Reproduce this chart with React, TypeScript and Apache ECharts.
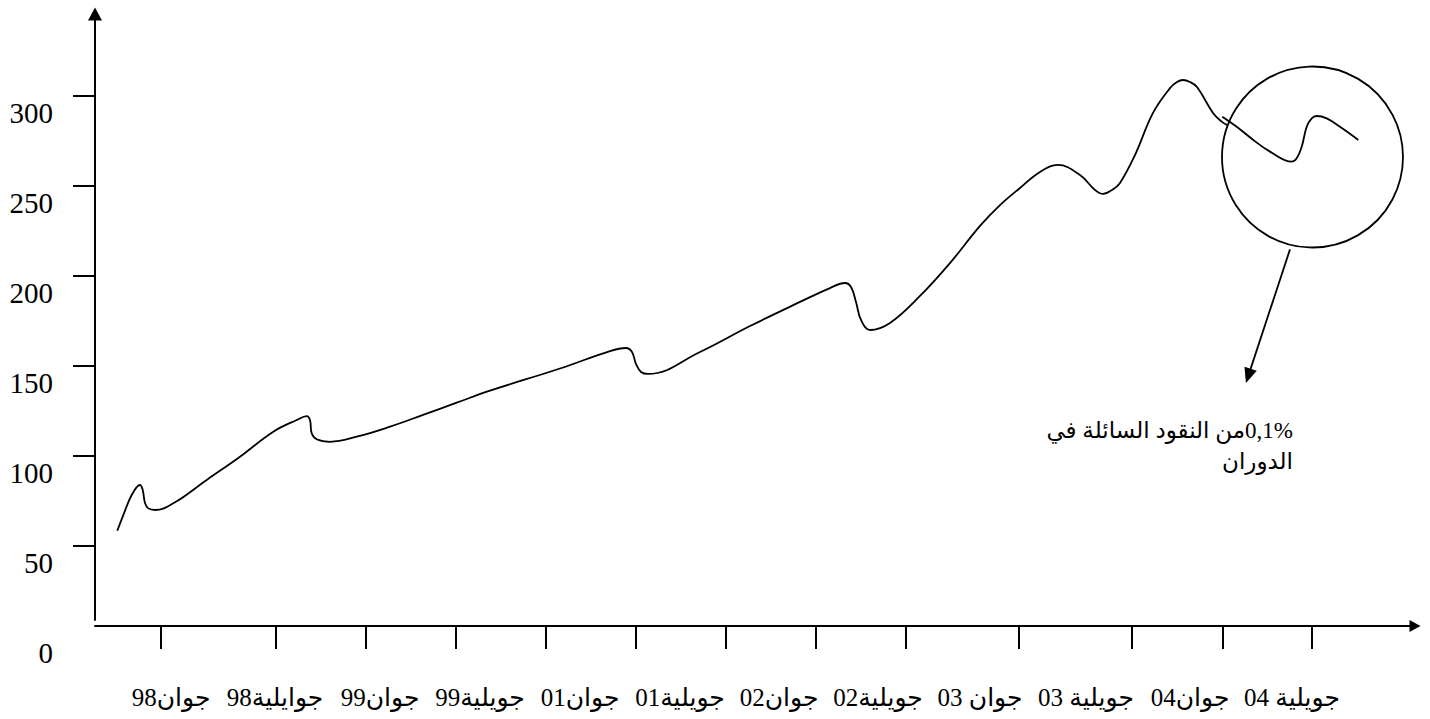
import React, { useEffect, useRef } from "react";
import * as echarts from "echarts";

// ---- data ----
const yTickValues = [50, 100, 150, 200, 250, 300];
const yLabelValues = [0, 50, 100, 150, 200, 250, 300];

const xTickValues = [6.6, 18.1, 27.1, 36.1, 45.1, 54.1, 63.1, 72.1, 81.1, 92.4, 103.7, 112.8, 121.7];
const xLabels = [
  "جوان98",
  "جوايلية98",
  "جوان99",
  "جويلية99",
  "جوان01",
  "جويلية01",
  "جوان02",
  "جويلية02",
  "جوان 03",
  "جويلية 03",
  "جوان04",
  "جويلية 04",
];
const xLabelAt = [7.6, 18.0, 28.5, 38.5, 48.5, 58.5, 68.4, 78.3, 88.5, 99.1, 109.5, 119.7];

const mainX = [2.23, 2.83, 3.67, 4.5, 4.77, 5.0, 5.33, 6.0, 7.83, 11.17, 14.5, 17.83, 20.17, 21.17, 21.5, 21.67, 22.17, 23.5, 26.17, 29.5, 32.8, 36.17, 39.5, 46.5, 51.5, 53.1, 53.7, 54.1, 54.6, 55.3, 60.5, 65.5, 70.5, 73.5, 75.0, 75.6, 76.1, 76.6, 77.5, 79.5, 82.5, 85.5, 88.5, 90.5, 92.5, 94.5, 96.3, 98.5, 100.0, 100.8, 101.7, 102.5, 104.0, 105.8, 107.5, 108.2, 108.8, 109.5, 110.2, 111.8, 112.7, 113.2];
const mainY = [58.5, 67.2, 78.3, 83.9, 81.1, 73.9, 70.9, 70.0, 73.7, 86.7, 99.6, 113.5, 120, 122.2, 120, 112.6, 109.3, 107.9, 110.7, 116.3, 122.8, 129.6, 136.3, 148.6, 158.3, 160, 157.8, 151.1, 146.7, 145.6, 157.8, 172.2, 185.6, 193.3, 196.1, 193.9, 185.6, 175.6, 170, 173.9, 188.9, 207.2, 227.8, 239.4, 248.9, 257.8, 261.7, 256.1, 247.8, 245.6, 247.8, 251.7, 267.2, 290.6, 304.4, 307.8, 308.9, 307.8, 305, 290.6, 285.6, 283.9];

const circX = [112.73, 114.17, 115.83, 117.5, 119.67, 120.17, 120.67, 121.17, 121.67, 122.17, 123.17, 124.5, 126.33];
const circY = [288.5, 282.9, 275.6, 269.1, 263.5, 265.4, 271.8, 282.9, 287.6, 288.9, 287.6, 282.9, 275.6];

const circleCenter = [121.75, 266.1];
const arrowFrom = [119.5, 214.8];
const arrowTo = [115.33, 144.5];

const noteLines = ["0,1%من النقود السائلة في", "الدوران"];

const SERIF = "'Liberation Serif', 'DejaVu Serif', 'DejaVu Sans', serif";
const RLE = "\u202B";
const PDF = "\u202C";

export default function App() {
  const ref = useRef<HTMLDivElement>(null);

  useEffect(() => {
    if (!ref.current) return;
    const chart = echarts.init(ref.current, undefined, { renderer: "svg" });

    const mainData = mainX.map((x, i) => [x, mainY[i]]);
    const circData = circX.map((x, i) => [x, circY[i]]);

    const option: any = {
      animation: false,
      backgroundColor: "#ffffff",
      grid: [
        { left: 95, right: 15, top: 15, bottom: 83, outerBoundsMode: "none", containLabel: false },
        { left: 95, width: 1, top: 14, bottom: 99, outerBoundsMode: "none", containLabel: false },
      ],
      xAxis: [
        {
          type: "value",
          gridIndex: 0,
          min: 0,
          max: 132,
          offset: -10,
          axisLine: {
            show: true,
            onZero: false,
            symbol: ["none", "triangle"],
            symbolSize: [12, 11],
            lineStyle: { color: "#000", width: 2 },
          },
          axisTick: {
            show: true,
            customValues: xTickValues,
            length: 23,
            lineStyle: { color: "#000", width: 2 },
          },
          axisLabel: {
            show: true,
            customValues: xLabelAt,
            hideOverlap: false,
            margin: 59,
            color: "#000",
            fontSize: 25,
            fontFamily: SERIF,
            verticalAlign: "top",
            formatter: (v: number) => {
              const i = xLabelAt.indexOf(v);
              return i >= 0 ? xLabels[i] : "";
            },
          },
          splitLine: { show: false },
        },
        { type: "value", gridIndex: 1, min: 0, max: 1, show: false },
      ],
      yAxis: [
        {
          type: "value",
          gridIndex: 0,
          min: 0,
          max: 345,
          axisLine: { show: false },
          axisTick: {
            show: true,
            customValues: yTickValues,
            length: 22,
            lineStyle: { color: "#000", width: 2 },
          },
          axisLabel: {
            show: true,
            customValues: yLabelValues,
            hideOverlap: false,
            margin: 42,
            color: "#000",
            fontSize: 29,
            fontFamily: SERIF,
            verticalAlign: "top",
            lineHeight: 34,
          },
          splitLine: { show: false },
        },
        {
          type: "value",
          gridIndex: 1,
          min: 0,
          max: 1,
          axisLine: {
            show: true,
            symbol: ["none", "triangle"],
            symbolSize: [14, 13],
            lineStyle: { color: "#000", width: 2 },
          },
          axisTick: { show: false },
          axisLabel: { show: false },
          splitLine: { show: false },
        },
      ],
      series: [
        {
          type: "line",
          xAxisIndex: 0,
          yAxisIndex: 0,
          data: mainData,
          showSymbol: false,
          symbol: "none",
          smooth: 0.4,
          clip: false,
          lineStyle: { color: "#000", width: 1.8 },
          silent: true,
        },
        {
          type: "line",
          xAxisIndex: 0,
          yAxisIndex: 0,
          data: circData,
          showSymbol: false,
          symbol: "none",
          smooth: 0.4,
          clip: false,
          lineStyle: { color: "#000", width: 1.8 },
          silent: true,
          markPoint: {
            silent: true,
            symbol: "circle",
            symbolSize: 181,
            label: { show: false },
            itemStyle: { color: "rgba(0,0,0,0)", borderColor: "#000", borderWidth: 1.8 },
            data: [{ coord: circleCenter }],
          },
          markLine: {
            silent: true,
            symbol: ["none", "triangle"],
            symbolSize: [13, 15],
            label: { show: false },
            lineStyle: { color: "#000", width: 1.8, type: "solid" },
            data: [[{ coord: arrowFrom }, { coord: arrowTo }]],
          },
        },
      ],
      graphic: [
        {
          type: "text",
          silent: true,
          style: {
            text: noteLines.map((l) => RLE + l + PDF).join("\n"),
            x: 1293,
            y: 446,
            align: "right",
            textAlign: "right",
            verticalAlign: "middle",
            textVerticalAlign: "middle",
            lineHeight: 31,
            fontSize: 23,
            fontFamily: SERIF,
            fill: "#000",
          },
        },
      ],
    };

    chart.setOption(option);
    return () => chart.dispose();
  }, []);

  return (
    <div
      ref={ref}
      style={{ position: "fixed", left: 0, top: 0, width: 1430, height: 719, background: "#fff" }}
    />
  );
}
